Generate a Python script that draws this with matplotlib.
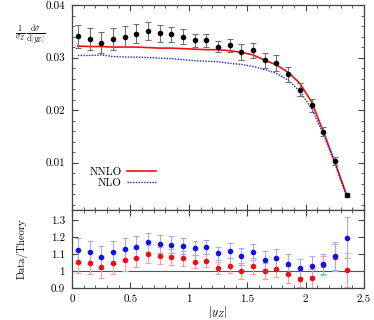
import numpy as np
import matplotlib
matplotlib.use("Agg")
import matplotlib.pyplot as plt
from matplotlib.ticker import MultipleLocator, FuncFormatter

plt.rcParams['font.family'] = 'serif'
plt.rcParams['font.serif'] = ['cmr10', 'DejaVu Serif']
plt.rcParams['mathtext.fontset'] = 'cm'
plt.rcParams['axes.formatter.use_mathtext'] = True

# bin centres of |y_Z|
yz = [0.05, 0.15, 0.25, 0.35, 0.45, 0.55, 0.65, 0.75, 0.85, 0.95, 1.05, 1.15,
      1.25, 1.35, 1.45, 1.55, 1.65, 1.75, 1.85, 1.95, 2.05, 2.15, 2.25, 2.35]

# data (normalised cross section) and errors
data = [0.03405, 0.0336, 0.0328, 0.0335, 0.0340, 0.0345, 0.0351, 0.0346,
        0.0344, 0.0340, 0.0333, 0.0333, 0.0321, 0.0323, 0.0310, 0.0314,
        0.0295, 0.0290, 0.0268, 0.0239, 0.0209, 0.0159, 0.0103, 0.0039]
data_err = [0.0022, 0.0021, 0.0020, 0.0021, 0.0020, 0.0018, 0.0017, 0.0016,
            0.0015, 0.0014, 0.0012, 0.0012, 0.0011, 0.0013, 0.0015, 0.0014,
            0.0014, 0.0015, 0.0014, 0.0012, 0.0012, 0.0009, 0.0008, 0.0004]

# theory curves
nnlo = [0.0322, 0.0321, 0.0321, 0.0320, 0.0320, 0.0320, 0.0319, 0.0318,
        0.0318, 0.0317, 0.0316, 0.0315, 0.0315, 0.0313, 0.0310, 0.0305,
        0.0295, 0.0286, 0.0272, 0.0251, 0.0216, 0.0160, 0.0101, 0.0039]
nlo = [0.0304, 0.0304, 0.0305, 0.0302, 0.0301, 0.0301, 0.0300, 0.0299,
       0.0298, 0.0296, 0.0294, 0.0293, 0.0292, 0.0289, 0.0287, 0.0283,
       0.0277, 0.0270, 0.0257, 0.0236, 0.0203, 0.0155, 0.0099, 0.0035]

# ratio panel
ratio_nnlo = [1.056, 1.046, 1.022, 1.046, 1.064, 1.078, 1.102, 1.090,
              1.082, 1.074, 1.054, 1.060, 1.019, 1.032, 1.000, 1.030,
              1.000, 1.014, 0.980, 0.956, 0.958, 1.034, 1.080, 1.008]
ratio_nnlo_err = [0.068, 0.065, 0.062, 0.066, 0.062, 0.056, 0.053, 0.050,
                  0.047, 0.044, 0.038, 0.038, 0.035, 0.042, 0.048, 0.046,
                  0.047, 0.052, 0.051, 0.048, 0.056, 0.057, 0.081, 0.100]
ratio_nlo = [1.122, 1.110, 1.080, 1.110, 1.130, 1.144, 1.170, 1.160,
             1.156, 1.148, 1.134, 1.140, 1.105, 1.120, 1.086, 1.112,
             1.066, 1.076, 1.044, 1.018, 1.030, 1.040, 1.088, 1.196]
ratio_nlo_err = [0.072, 0.069, 0.066, 0.070, 0.065, 0.060, 0.057, 0.054,
                 0.050, 0.047, 0.041, 0.041, 0.038, 0.045, 0.052, 0.049,
                 0.051, 0.056, 0.054, 0.051, 0.059, 0.058, 0.082, 0.120]

fig = plt.figure(figsize=(3.74, 3.2), dpi=100)
ax = fig.add_axes([0.1925, 0.34375, 0.781, 0.6406])
axr = fig.add_axes([0.1925, 0.1, 0.781, 0.24375], sharex=ax)

fmt = FuncFormatter(lambda v, p: '%g' % round(v, 4))

# main panel
ax.plot(yz, nnlo, color='#f01010', lw=1.2, label='NNLO')
ax.plot(yz, nlo, color='#2020f0', lw=1.0, ls=(0, (1, 1)), label='NLO')
ax.errorbar(yz, data, yerr=data_err, fmt='o', ms=3.0, color='black',
            ecolor='#707070', elinewidth=0.8, capsize=2, capthick=0.8)
ax.set_xlim(0, 2.5)
ax.set_ylim(0.001, 0.04)
ax.yaxis.set_major_locator(MultipleLocator(0.01))
ax.yaxis.set_minor_locator(MultipleLocator(0.002))
ax.yaxis.set_major_formatter(fmt)
ax.tick_params(labelbottom=False)
ax.text(-0.09, 0.855,
        r'$\frac{1}{\sigma_Z}\,\frac{\mathrm{d}\sigma}{\mathrm{d}|y_Z|}$',
        transform=ax.transAxes, fontsize=8, ha='right', va='center')
ax.legend(loc='lower left', bbox_to_anchor=(0.025, 0.06), frameon=False,
          markerfirst=False, fontsize=8, handlelength=2.6, labelspacing=0.05,
          handletextpad=0.5)

# ratio panel
axr.axhline(1.0, color='#555555', lw=0.8)
axr.errorbar(yz, ratio_nnlo, yerr=ratio_nnlo_err, fmt='none',
             ecolor='#f4a0a0', elinewidth=0.8, capsize=2, capthick=0.8)
axr.errorbar(yz, ratio_nlo, yerr=ratio_nlo_err, fmt='none',
             ecolor='#a8a8f8', elinewidth=0.8, capsize=2, capthick=0.8,
             ls=':')
axr.plot(yz, ratio_nnlo, 'o', ms=3.0, color='#ee1010', ls='none')
axr.plot(yz, ratio_nlo, 'o', ms=3.0, color='#1010ee', ls='none')
axr.set_ylim(0.9, 1.36)
axr.yaxis.set_major_locator(MultipleLocator(0.1))
axr.yaxis.set_major_formatter(fmt)
axr.xaxis.set_major_locator(MultipleLocator(0.5))
axr.xaxis.set_minor_locator(MultipleLocator(0.1))
axr.xaxis.set_major_formatter(fmt)
axr.set_xlabel(r'$|y_Z|$', fontsize=8.5, labelpad=0)
axr.set_ylabel('Data/Theory', fontsize=7.5)
axr.yaxis.set_label_coords(-0.15, 0.5)

for a in (ax, axr):
    a.tick_params(which='both', direction='in', top=True, right=True,
                  labelsize=8, color='#444444', pad=5)
    a.tick_params(which='major', length=4)
    a.tick_params(which='minor', length=2)
    for s in a.spines.values():
        s.set_color('#444444')
        s.set_linewidth(0.9)

fig.savefig('out.png', dpi=100)
